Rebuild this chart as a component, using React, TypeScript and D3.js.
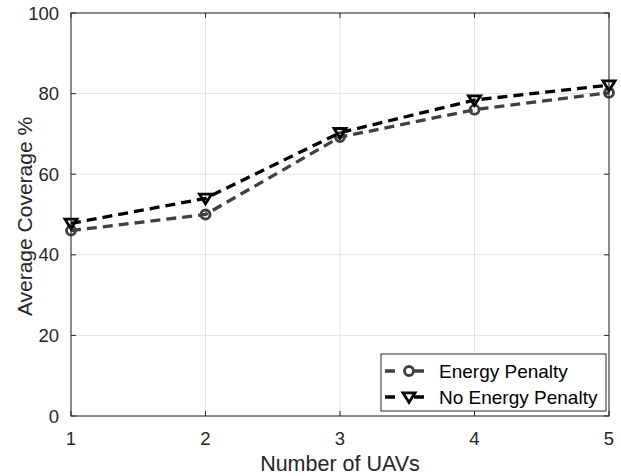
import * as d3 from 'd3';

const uavs = [1, 2, 3, 4, 5];
const energyPenalty = [46, 50, 69.2, 76, 80.2];
const noEnergyPenalty = [47.8, 54, 70.3, 78.4, 82.1];
const yTicks = [0, 20, 40, 60, 80, 100];

const W = 621;
const H = 476;
const M = { top: 13, right: 12, bottom: 60, left: 71 };

const series = [
  { label: 'Energy Penalty', values: energyPenalty, color: '#404040', marker: 'circle' },
  { label: 'No Energy Penalty', values: noEnergyPenalty, color: '#000000', marker: 'triangle' },
];

function Marker({ type, cx, cy, color }: { type: string; cx: number; cy: number; color: string }) {
  if (type === 'circle') {
    return <circle cx={cx} cy={cy} r={4.5} fill="none" stroke={color} strokeWidth={2.8} />;
  }
  const s = 6;
  const pts = `${cx - s},${cy - s * 0.7} ${cx + s},${cy - s * 0.7} ${cx},${cy + s * 0.9}`;
  return <polygon points={pts} fill="none" stroke={color} strokeWidth={2.8} strokeLinejoin="miter" />;
}

export default function App() {
  const w = W - M.left - M.right;
  const h = H - M.top - M.bottom;
  const x = d3.scaleLinear().domain([1, 5]).range([M.left, M.left + w]);
  const y = d3.scaleLinear().domain([0, 100]).range([M.top + h, M.top]);
  const line = d3.line<number>().x((_, i) => x(uavs[i])).y(d => y(d));
  const axisColor = '#262626';
  const font = 'Liberation Sans, Arial, Helvetica, sans-serif';

  const lx = 381, ly = 354, lw = 225, lh = 57;

  return (
    <svg width={W} height={H} style={{ position: 'absolute', left: 0, top: 0 }} fontFamily={font}>
      <rect x={0} y={0} width={W} height={H} fill="#fff" />
      {/* grid */}
      {uavs.map(t => (
        <line key={'gx' + t} x1={x(t)} x2={x(t)} y1={M.top} y2={M.top + h} stroke="#e3e3e3" strokeWidth={1} />
      ))}
      {yTicks.map(t => (
        <line key={'gy' + t} x1={M.left} x2={M.left + w} y1={y(t)} y2={y(t)} stroke="#e3e3e3" strokeWidth={1} />
      ))}
      {/* series */}
      {series.map(s => (
        <g key={s.label}>
          <path d={line(s.values) || ''} fill="none" stroke={s.color} strokeWidth={3.3} strokeDasharray="10,6" />
          {s.values.map((v, i) => (
            <Marker key={i} type={s.marker} cx={x(uavs[i])} cy={y(v)} color={s.color} />
          ))}
        </g>
      ))}
      {/* axes box */}
      <rect x={M.left} y={M.top} width={w} height={h} fill="none" stroke={axisColor} strokeWidth={1} />
      {uavs.map(t => (
        <g key={'tx' + t}>
          <line x1={x(t)} x2={x(t)} y1={M.top + h} y2={M.top + h - 5} stroke={axisColor} />
          <line x1={x(t)} x2={x(t)} y1={M.top} y2={M.top + 5} stroke={axisColor} />
          <text x={x(t)} y={M.top + h + 29} textAnchor="middle" fontSize={18.5} fill={axisColor}>{t}</text>
        </g>
      ))}
      {yTicks.map(t => (
        <g key={'ty' + t}>
          <line x1={M.left} x2={M.left + 5} y1={y(t)} y2={y(t)} stroke={axisColor} />
          <line x1={M.left + w} x2={M.left + w - 5} y1={y(t)} y2={y(t)} stroke={axisColor} />
          <text x={M.left - 12} y={y(t)} dy="0.36em" textAnchor="end" fontSize={18.5} fill={axisColor}>{t}</text>
        </g>
      ))}
      <text x={M.left + w / 2} y={471} textAnchor="middle" fontSize={21.5} fill={axisColor}>Number of UAVs</text>
      <text transform={`translate(32,${M.top + h / 2 + 2}) rotate(-90)`} textAnchor="middle" fontSize={21} fill={axisColor}>Average Coverage %</text>
      {/* legend */}
      <rect x={lx} y={ly} width={lw} height={lh} fill="#fff" stroke={axisColor} strokeWidth={1} />
      {series.map((s, i) => {
        const cy = ly + 17 + i * 26;
        return (
          <g key={'lg' + i}>
            <line x1={lx + 4} x2={lx + 53} y1={cy} y2={cy} stroke={s.color} strokeWidth={3.3} strokeDasharray="10,19" />
            <Marker type={s.marker} cx={lx + 28} cy={cy} color={s.color} />
            <text x={lx + 58} y={cy} dy="0.36em" fontSize={19} fill="#000">{s.label}</text>
          </g>
        );
      })}
    </svg>
  );
}
